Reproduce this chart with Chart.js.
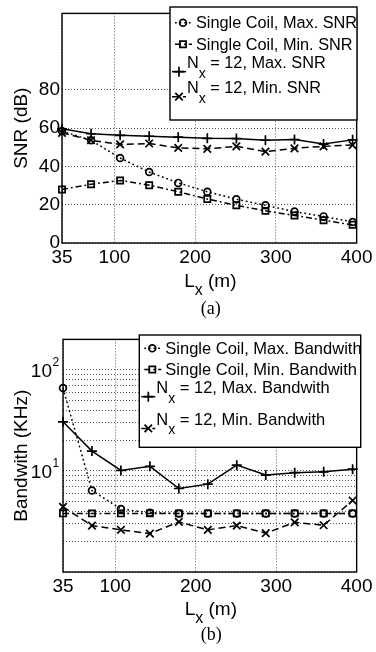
<!DOCTYPE html>
<html>
<head>
<meta charset="utf-8">
<script src="https://cdn.jsdelivr.net/npm/chart.js@4.4.1/dist/chart.umd.min.js"></script>
<style>
html, body { margin: 0; padding: 0; background: #fff; }
#wrap { position: relative; width: 376px; height: 652px; }
canvas { position: absolute; left: 0; }
</style>
</head>
<body>
<div id="wrap">
  <canvas id="snrChart" width="376" height="326" style="top:0"></canvas>
  <canvas id="bwChart" width="376" height="326" style="top:326px"></canvas>
</div>
<script>
// cable length L_x (m) for every measured point
const lengths = [35, 71, 107, 143, 179, 215, 251, 287, 323, 359, 395];
const xTicks = [35, 100, 200, 300, 400];

// (a) SNR in dB
const snrTicks = [0, 20, 40, 60, 80];
const snrSingleMax = [58.5, 53.7, 44.4, 37.1, 31.4, 26.8, 22.9, 19.7, 16.4, 13.9, 11.0];
const snrSingleMin = [28.0, 30.7, 32.7, 30.2, 26.8, 23.0, 19.7, 16.8, 14.4, 11.9, 9.5];
const snrArrayMax = [59.7, 57.1, 56.3, 55.8, 55.3, 54.7, 54.6, 53.7, 54.1, 51.7, 53.9];
const snrArrayMin = [57.6, 53.7, 51.5, 52.0, 49.7, 49.2, 50.5, 47.8, 49.5, 50.5, 51.2];

// (b) bandwidth in KHz (log axis)
const bwTicks = [1, 2, 3, 4, 5, 6, 7, 8, 9, 10, 20, 30, 40, 50, 60, 70, 80, 90, 100, 200];
const bwLabelled = [10, 100];
const bwSingleMax = [66, 6.4, 4.2, 3.85, 3.8, 3.8, 3.8, 3.8, 3.8, 3.8, 3.8];
const bwSingleMin = [3.8, 3.8, 3.8, 3.8, 3.8, 3.8, 3.8, 3.8, 3.8, 3.8, 3.8];
const bwArrayMax = [30.6, 15.7, 10.1, 11.1, 6.7, 7.4, 11.4, 9.1, 9.6, 9.8, 10.4];
const bwArrayMin = [4.4, 2.88, 2.61, 2.40, 3.13, 2.61, 2.88, 2.42, 3.1, 2.9, 5.1];

const SANS = "'Liberation Sans', Arial, sans-serif";
const SERIF = "'Liberation Serif', 'Times New Roman', serif";
Chart.defaults.font.family = SANS;
Chart.defaults.color = '#000';

function points(ys) {
    return lengths.map((x, i) => ({ x: x, y: ys[i] }));
}

// the four line styles used in both panels
function makeSets(names, series) {
    const styles = [
        { borderDash: [1.8, 2.8], pointStyle: 'circle', pointRadius: 3.4 },
        { borderDash: [6, 3, 1.8, 3], pointStyle: 'rect', pointRadius: 4.4 },
        { borderDash: [], pointStyle: 'cross', pointRadius: 5 },
        { borderDash: [7, 4], pointStyle: 'crossRot', pointRadius: 5.3 }
    ];
    return names.map((name, i) => Object.assign({
        label: name,
        data: points(series[i]),
        borderColor: '#000',
        borderWidth: 1.5,
        pointBorderColor: '#000',
        pointBackgroundColor: 'rgba(0,0,0,0)',
        pointBorderWidth: 1.7,
        tension: 0,
        clip: false
    }, styles[i]));
}

function marker(ctx, style, r, x, y) {
    ctx.beginPath();
    if (style === 'circle') {
        ctx.arc(x, y, r, 0, Math.PI * 2);
    } else if (style === 'rect') {
        const s = r * Math.SQRT1_2;
        ctx.rect(x - s, y - s, 2 * s, 2 * s);
    } else if (style === 'cross') {
        ctx.moveTo(x - r, y); ctx.lineTo(x + r, y);
        ctx.moveTo(x, y - r); ctx.lineTo(x, y + r);
    } else {
        const s = r * Math.SQRT1_2;
        ctx.moveTo(x - s, y - s); ctx.lineTo(x + s, y + s);
        ctx.moveTo(x - s, y + s); ctx.lineTo(x + s, y - s);
    }
    ctx.stroke();
}

// text with a "_x" subscript, left aligned, returns end x
function subText(ctx, txt, x, base, size, subBase) {
    const parts = txt.split('_x');
    ctx.textAlign = 'left';
    ctx.textBaseline = 'alphabetic';
    ctx.font = size + 'px ' + SANS;
    ctx.fillText(parts[0], x, base);
    x += ctx.measureText(parts[0]).width;
    if (parts.length > 1) {
        ctx.font = Math.round(size * 0.85) + 'px ' + SANS;
        ctx.fillText('x', x, subBase);
        x += ctx.measureText('x').width;
        ctx.font = size + 'px ' + SANS;
        ctx.fillText(parts[1], x, base);
        x += ctx.measureText(parts[1]).width;
    }
    return x;
}

const figurePlugin = {
    id: 'figure',
    afterDraw(chart, args, opts) {
        const ctx = chart.ctx;
        const a = chart.chartArea;
        ctx.save();
        ctx.fillStyle = '#000';
        ctx.strokeStyle = '#000';

        // axes box
        ctx.lineWidth = 1.4;
        ctx.setLineDash([]);
        ctx.strokeRect(a.left, a.top, a.right - a.left, a.bottom - a.top);

        // legend box
        const b = opts.box;
        ctx.fillStyle = '#fff';
        ctx.fillRect(b[0], b[1], b[2] - b[0], b[3] - b[1]);
        ctx.strokeRect(b[0], b[1], b[2] - b[0], b[3] - b[1]);
        ctx.fillStyle = '#000';
        chart.data.datasets.forEach((ds, i) => {
            const row = opts.rows[i];
            const sub = ds.label.indexOf('_x') >= 0;
            const x1 = b[0] + (sub ? 2 : 5);
            const x2 = b[0] + (sub ? 16 : 22);
            const mx = b[0] + (sub ? 9 : 13);
            ctx.lineWidth = 1.5;
            ctx.setLineDash(ds.borderDash);
            ctx.beginPath();
            ctx.moveTo(x1, row.line);
            ctx.lineTo(x2, row.line);
            ctx.stroke();
            ctx.setLineDash([]);
            ctx.lineWidth = 1.7;
            marker(ctx, ds.pointStyle, ds.pointRadius, mx, row.line);
            subText(ctx, ds.label, b[0] + (sub ? 17 : 26), row.base, opts.legendSize, row.sub || 0);
        });

        // log tick labels as 10^k
        if (opts.powers) {
            const ys = chart.scales.y;
            opts.powers.forEach(v => {
                const py = ys.getPixelForValue(v);
                ctx.font = '19px ' + SANS;
                ctx.textAlign = 'right';
                ctx.textBaseline = 'middle';
                ctx.fillText('10', 52, py + 1.5);
                ctx.font = '12px ' + SANS;
                ctx.textAlign = 'left';
                ctx.textBaseline = 'alphabetic';
                ctx.fillText(String(Math.round(Math.log10(v))), 52.5, py - 3.5);
            });
        }

        // y title
        ctx.save();
        ctx.translate(opts.yTitleX, (a.top + a.bottom) / 2);
        ctx.rotate(-Math.PI / 2);
        ctx.font = '19px ' + SANS;
        ctx.textAlign = 'center';
        ctx.textBaseline = 'alphabetic';
        ctx.fillText(opts.yTitle, 0, 0);
        ctx.restore();

        // x title L_x (m), centred under the axes
        ctx.font = '19px ' + SANS;
        const w = ctx.measureText('L (m)').width + 6;
        const cx = (a.left + a.right) / 2;
        subText(ctx, 'L_x (m)', cx - w / 2, opts.xTitleBase, 19, opts.xTitleBase + 8.3);

        // panel caption
        ctx.font = '18px ' + SERIF;
        ctx.textAlign = 'center';
        ctx.textBaseline = 'alphabetic';
        ctx.fillText(opts.caption, cx + 1.5, opts.captionBase);
        ctx.restore();
    }
};

function xScale(height) {
    return {
        type: 'linear',
        min: 35,
        max: 400,
        afterBuildTicks: s => { s.ticks = xTicks.map(v => ({ value: v })); },
        afterFit: s => { s.height = height; },
        grid: { color: 'rgba(0,0,0,0.75)', lineWidth: 0.9, drawTicks: false },
        border: { display: false, dash: [1, 2] },
        ticks: { font: { size: 19 }, color: '#000', padding: 3.5, maxRotation: 0, autoSkip: false }
    };
}

new Chart(document.getElementById('snrChart'), {
    type: 'line',
    data: {
        datasets: makeSets(
            ['Single Coil, Max. SNR', 'Single Coil, Min. SNR', 'N_x = 12, Max. SNR', 'N_x = 12, Min. SNR'],
            [snrSingleMax, snrSingleMin, snrArrayMax, snrArrayMin])
    },
    options: {
        responsive: false,
        animation: false,
        layout: { padding: { top: 7, right: 19, left: 0, bottom: 0 } },
        plugins: {
            legend: { display: false },
            tooltip: { enabled: false },
            figure: {
                box: [170, 7, 357, 120],
                legendSize: 16.3,
                rows: [
                    { base: 28.3, line: 22.7 },
                    { base: 50, line: 44.3 },
                    { base: 68.3, line: 71.7, sub: 78.3 },
                    { base: 93.3, line: 96.7, sub: 103.3 }
                ],
                yTitle: 'SNR (dB)',
                yTitleX: 26.5,
                xTitleBase: 287,
                caption: '(a)',
                captionBase: 313.5
            }
        },
        scales: {
            x: xScale(83),
            y: {
                type: 'linear',
                min: 0,
                max: 120,
                afterBuildTicks: s => { s.ticks = snrTicks.map(v => ({ value: v })); },
                afterFit: s => { s.width = 62; },
                grid: { color: 'rgba(0,0,0,0.75)', lineWidth: 0.9, drawTicks: false },
                border: { display: false, dash: [1, 2] },
                ticks: { font: { size: 19 }, color: '#000', padding: 2 }
            }
        }
    },
    plugins: [figurePlugin]
});

new Chart(document.getElementById('bwChart'), {
    type: 'line',
    data: {
        datasets: makeSets(
            ['Single Coil, Max. Bandwith', 'Single Coil, Min. Bandwith', 'N_x = 12, Max. Bandwith', 'N_x = 12, Min. Bandwith'],
            [bwSingleMax, bwSingleMin, bwArrayMax, bwArrayMin])
    },
    options: {
        responsive: false,
        animation: false,
        layout: { padding: { top: 9, right: 15, left: 0, bottom: 0 } },
        plugins: {
            legend: { display: false },
            tooltip: { enabled: false },
            figure: {
                box: [139.3, 9, 360.7, 121.3],
                legendSize: 16.5,
                rows: [
                    { base: 28, line: 22.3 },
                    { base: 49, line: 43.5 },
                    { base: 67.3, line: 70.7, sub: 77.3 },
                    { base: 99, line: 102.4, sub: 108.3 }
                ],
                powers: bwLabelled,
                yTitle: 'Bandwith (KHz)',
                yTitleX: 26.7,
                xTitleBase: 289,
                caption: '(b)',
                captionBase: 314
            }
        },
        scales: {
            x: xScale(80),
            y: {
                type: 'logarithmic',
                min: 1,
                max: 200,
                afterBuildTicks: s => { s.ticks = bwTicks.map(v => ({ value: v })); },
                afterFit: s => { s.width = 63; },
                grid: { color: 'rgba(0,0,0,0.75)', lineWidth: 0.9, drawTicks: false },
                border: { display: false, dash: [1, 2] },
                ticks: { font: { size: 19 }, color: '#000', padding: 2, autoSkip: false, callback: () => '' }
            }
        }
    },
    plugins: [figurePlugin]
});
</script>
</body>
</html>
